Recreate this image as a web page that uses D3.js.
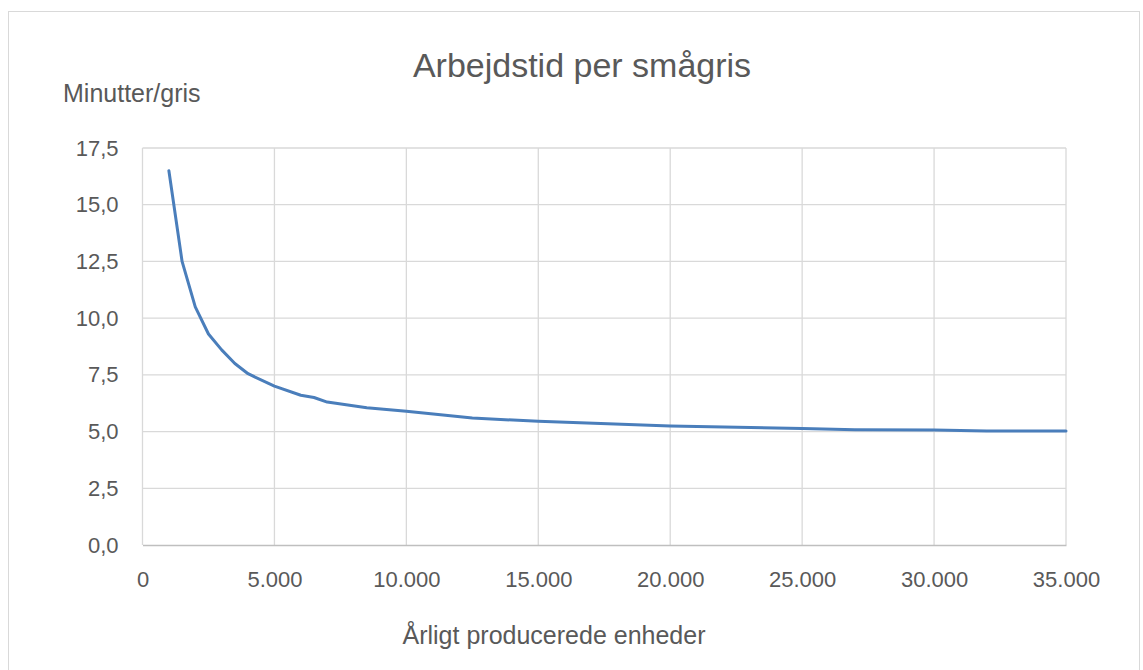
<!DOCTYPE html>
<html lang="da">
<head>
<meta charset="utf-8" />
<title>Arbejdstid per smågris</title>
<script src="https://d3js.org/d3.v7.min.js"></script>
<style>
  body { margin: 0; background: #fff; }
  svg text { font-family: "Liberation Sans", Arial, sans-serif; fill: #595959; }
</style>
</head>
<body>
<svg width="1143" height="670"></svg>
<script>
// units produced per year
var units = [1000, 1500, 2000, 2500, 3000, 3500, 4000, 5000, 6000, 6500, 7000,
             8500, 10000, 12500, 15000, 20000, 25000, 27000, 30000, 32000, 35000];
// minutes per piglet
var minutes = [16.5, 12.5, 10.5, 9.3, 8.6, 8.0, 7.55, 7.0, 6.6, 6.5, 6.3,
               6.05, 5.9, 5.6, 5.45, 5.25, 5.13, 5.08, 5.07, 5.02, 5.02];
var xTicks = [0, 5000, 10000, 15000, 20000, 25000, 30000, 35000];
var yTicks = [0, 2.5, 5, 7.5, 10, 12.5, 15, 17.5];

var svg = d3.select("svg"),
    margin = {top: 148, right: 77, bottom: 125, left: 142.5},
    width = 1143 - margin.left - margin.right,
    height = 670 - margin.top - margin.bottom;

var data = units.map(function(u, i) { return {x: u, y: minutes[i]}; });

var x = d3.scaleLinear().domain([0, 35000]).range([0, width]);
var y = d3.scaleLinear().domain([0, 17.5]).range([height, 0]);

var fmtX = function(d) { return d3.format(",")(d).replace(/,/g, "."); };
var fmtY = function(d) { return d3.format(".1f")(d).replace(".", ","); };

// outer frame
svg.append("rect")
    .attr("x", 8.5).attr("y", 11.5)
    .attr("width", 1131).attr("height", 670)
    .attr("fill", "none")
    .attr("stroke", "#d9d9d9");

var g = svg.append("g")
    .attr("transform", "translate(" + margin.left + "," + margin.top + ")");

// gridlines
g.append("g").selectAll("line").data(yTicks.slice(1)).enter().append("line")
    .attr("x1", 0).attr("x2", width)
    .attr("y1", function(d) { return y(d); })
    .attr("y2", function(d) { return y(d); })
    .attr("stroke", "#d9d9d9").attr("stroke-width", 1.3);

g.append("g").selectAll("line").data(xTicks).enter().append("line")
    .attr("x1", function(d) { return x(d); })
    .attr("x2", function(d) { return x(d); })
    .attr("y1", 0).attr("y2", height)
    .attr("stroke", "#d9d9d9").attr("stroke-width", 1.3);

// axes
var xAxis = g.append("g")
    .attr("transform", "translate(0," + height + ")")
    .call(d3.axisBottom(x).tickValues(xTicks).tickFormat(fmtX).tickSize(0).tickPadding(26));
xAxis.select(".domain").attr("stroke", "#bfbfbf").attr("stroke-width", 1.5);
xAxis.selectAll("text").style("font-size", "22px").attr("fill", "#595959");

var yAxis = g.append("g")
    .call(d3.axisLeft(y).tickValues(yTicks).tickFormat(fmtY).tickSize(0).tickPadding(24));
yAxis.select(".domain").remove();
yAxis.selectAll("text").style("font-size", "22px").attr("fill", "#595959");

// line
g.append("path")
    .datum(data)
    .attr("fill", "none")
    .attr("stroke", "#4a7ebb")
    .attr("stroke-width", 3)
    .attr("stroke-linejoin", "round")
    .attr("stroke-linecap", "round")
    .attr("d", d3.line()
        .x(function(d) { return x(d.x); })
        .y(function(d) { return y(d.y); }));

// titles
svg.append("text")
    .attr("x", 582).attr("y", 77)
    .attr("text-anchor", "middle")
    .style("font-size", "34px")
    .text("Arbejdstid per smågris");

svg.append("text")
    .attr("x", 63).attr("y", 102)
    .style("font-size", "25px")
    .text("Minutter/gris");

svg.append("text")
    .attr("x", 554).attr("y", 644)
    .attr("text-anchor", "middle")
    .style("font-size", "25px")
    .text("Årligt producerede enheder");
</script>
</body>
</html>
